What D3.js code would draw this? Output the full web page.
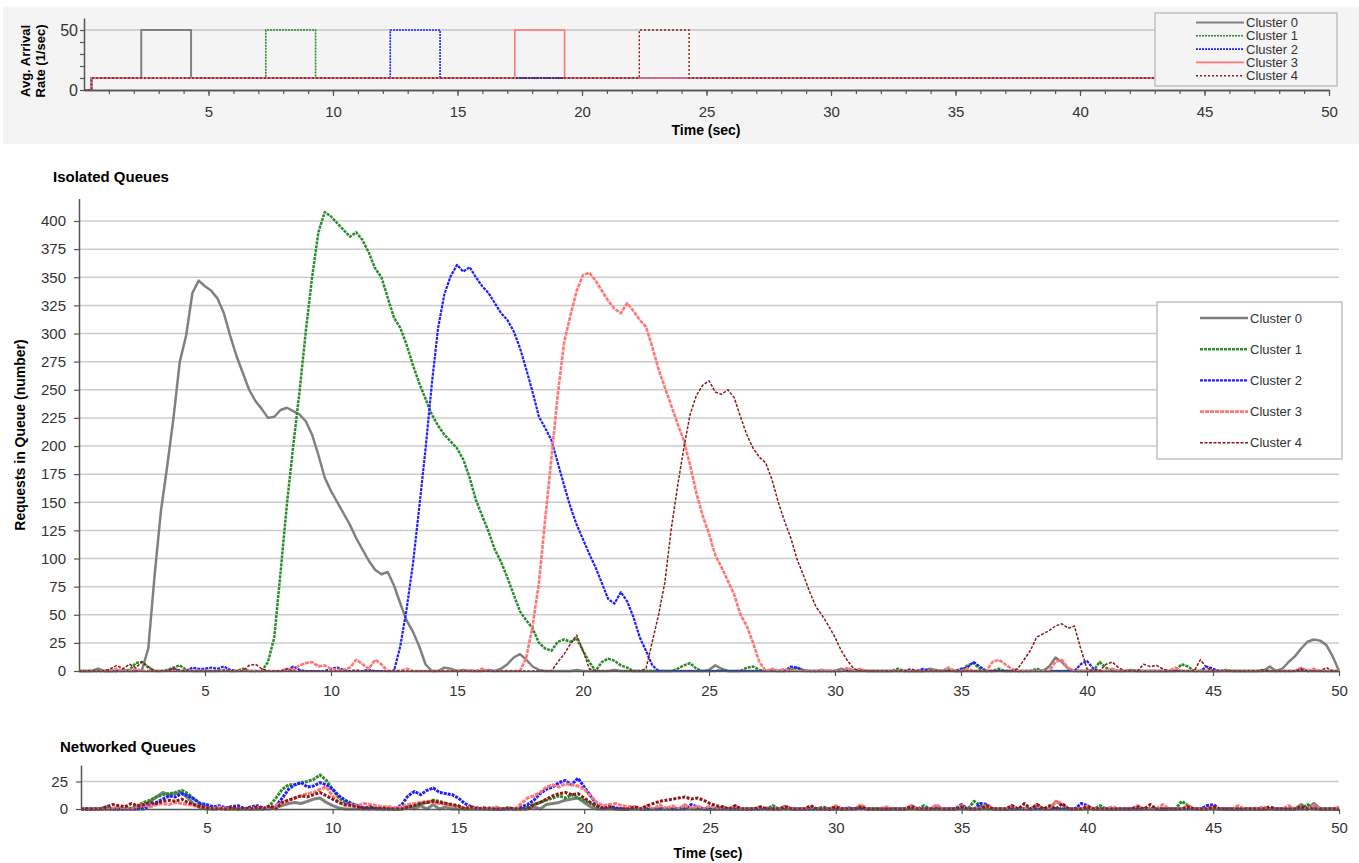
<!DOCTYPE html>
<html>
<head>
<meta charset="utf-8">
<script src="https://d3js.org/d3.v7.min.js"></script>
<style>
    body { margin: 0; background: #ffffff; }
    text { font-family: "Liberation Sans", Arial, sans-serif; }
</style>
</head>
<body>
<div id="chart"></div>

<script>

    var clusters = ['Cluster 0', 'Cluster 1', 'Cluster 2', 'Cluster 3', 'Cluster 4'];
    var colors = ['#808080', '#2a8c2a', '#2020ff', '#ff7878', '#8b1a1a'];

    var timeStep = 0.25;
    var timeTicks = [5, 10, 15, 20, 25, 30, 35, 40, 45, 50];

    // arrival rate per cluster (1/sec)
    var arrivalStart = 0.3;
    var baseRate = 10;
    var burstRate = 50;
    var burstStart = [2.3, 7.3, 12.3, 17.3, 22.3];
    var burstEnd = [4.3, 9.3, 14.3, 19.3, 24.3];

    // isolated queues, one value every 0.25 s (0..50)
    var isolated0 = [
        0,0,0,2,0,0,0,1,0,0,1,20,85,142,182,225,275,298,336,347,
        342,338,331,318,298,280,265,250,240,233,225,226,232,234,231,228,222,210,192,172,
        160,150,140,130,118,108,98,90,86,88,76,60,45,35,22,6,0,0,3,2,
        0,1,0,0,0,1,0,2,6,12,15,10,4,1,0,0,0,0,0,1,
        0,0,0,0,0,1,0,0,0,0,0,0,0,0,0,0,0,0,0,0,
        1,5,2,0,0,0,0,0,0,0,1,0,0,2,3,1,0,0,0,0,
        0,2,0,0,0,0,0,0,0,0,0,0,0,0,0,2,1,0,0,0,
        0,0,0,0,0,0,0,0,0,0,0,0,0,0,4,12,8,2,0,0,
        0,0,0,0,0,0,0,1,0,0,0,0,0,0,0,0,0,0,0,0,
        0,0,0,0,0,0,0,0,0,4,0,2,8,13,20,26,28,27,23,13,
        0];
    var isolated1 = [
        0,0,0,0,0,0,0,0,1,7,8,3,0,0,1,3,5,1,0,0,
        0,0,0,1,0,0,2,0,0,0,8,30,88,148,200,248,302,350,390,408,
        404,398,392,386,390,383,372,358,350,332,314,305,290,272,256,242,228,218,210,204,
        198,188,172,152,138,124,108,97,83,68,53,45,38,25,20,18,26,28,26,29,
        18,8,0,8,11,9,5,3,0,0,0,0,0,0,0,2,5,7,2,0,
        0,0,1,0,0,0,3,4,1,0,0,0,0,0,3,0,0,0,0,0,
        0,0,2,1,1,0,0,0,0,0,2,0,0,0,0,0,0,0,2,0,
        0,5,7,2,0,0,2,0,0,0,0,0,2,0,0,0,0,0,0,0,
        0,0,8,3,0,0,0,0,0,0,0,0,0,0,0,6,4,0,0,0,
        0,0,1,0,0,0,0,0,1,0,0,0,0,0,2,0,0,0,0,0,
        0];
    var isolated2 = [
        0,0,0,0,0,0,0,0,0,0,0,0,0,0,0,2,0,0,3,2,
        2,3,2,4,1,0,0,0,0,0,0,0,0,0,4,1,0,0,0,0,
        2,3,1,0,0,0,1,0,0,0,0,22,55,95,145,197,255,305,335,351,
        361,355,359,350,342,336,327,318,312,302,287,268,248,226,216,205,185,165,146,130,
        117,104,92,78,64,60,70,62,48,30,18,5,0,0,0,0,0,0,0,0,
        0,0,0,0,0,0,0,0,0,0,0,0,0,4,3,0,0,0,0,0,
        0,0,0,0,0,0,0,0,0,0,0,0,0,0,2,0,0,0,0,0,
        2,3,8,4,0,0,0,0,0,0,0,0,0,0,0,0,0,0,0,6,
        9,2,0,0,0,0,0,0,0,0,0,0,0,0,0,0,0,0,0,4,
        2,0,0,0,0,0,0,0,0,0,0,0,0,0,0,0,0,0,0,0,
        0];
    var isolated3 = [
        0,0,0,0,0,0,2,0,0,2,0,0,0,0,0,1,0,0,0,0,
        0,0,0,0,0,0,0,0,0,0,0,0,0,2,1,5,7,8,4,5,
        2,1,1,3,10,6,2,10,6,0,0,0,2,0,0,0,0,0,0,0,
        0,0,1,0,2,0,0,0,0,0,0,12,40,78,135,190,246,292,316,338,
        352,354,347,338,329,322,318,327,320,312,306,288,268,252,236,220,205,183,158,138,
        122,103,92,80,68,50,40,25,8,0,2,0,2,0,0,0,0,0,1,0,
        0,0,3,0,2,0,0,0,0,0,0,0,0,0,0,0,0,0,3,0,
        0,2,0,0,0,8,10,6,2,0,0,0,0,0,0,8,10,3,0,0,
        0,0,0,0,2,0,0,0,0,0,0,0,0,0,3,0,0,0,0,0,
        0,0,0,0,0,0,0,0,0,0,0,0,0,0,3,0,2,0,0,0,
        0];
    var isolated4 = [
        0,0,0,0,0,2,5,2,6,3,8,4,0,0,0,2,1,0,0,0,
        0,0,0,0,0,0,0,5,6,2,0,0,0,2,0,0,0,0,0,0,
        0,0,0,0,1,0,0,0,0,0,1,0,0,0,0,0,0,0,0,0,
        0,0,0,0,0,0,0,0,0,0,0,0,0,0,0,0,8,15,24,32,
        18,2,0,0,0,0,0,0,0,0,2,26,50,79,126,164,198,228,245,254,
        258,248,246,250,243,226,210,198,190,185,170,150,133,118,99,85,70,57,49,40,
        30,18,9,2,0,0,0,0,0,0,0,0,2,0,0,0,0,0,0,0,
        0,0,0,0,0,0,0,0,0,2,10,18,30,33,36,40,42,38,40,20,
        2,0,0,6,8,3,0,0,0,6,4,5,2,0,0,0,0,0,10,3,
        0,0,0,0,0,0,0,0,1,0,0,0,0,0,2,0,0,0,3,0,
        0];

    // networked queues, one value every 0.25 s (0..50)
    var networked0 = [
        0,0,0,0,2,0,0,0,0,0,3,7,11,15,13,14,15,10,4,1,
        0,0,1,0,0,0,0,0,0,0,0,2,3,5,6,5,7,9,10,6,
        3,1,0,0,0,0,0,0,0,0,0,0,2,0,3,0,4,0,2,0,
        0,0,0,0,0,0,0,0,1,0,0,0,2,0,4,5,6,8,9,10,
        6,2,0,0,0,0,0,0,0,0,0,0,0,1,0,0,0,0,0,0,
        0,0,0,0,0,0,0,0,0,1,0,0,0,0,0,0,0,0,0,0,
        0,0,0,0,2,0,0,0,0,0,0,0,0,0,0,0,0,0,0,0,
        0,0,0,0,0,0,0,0,0,0,0,0,0,0,0,7,4,0,0,0,
        0,0,0,0,0,0,0,0,0,0,0,0,0,0,0,0,0,0,0,0,
        0,0,0,0,0,0,0,0,0,0,0,0,0,0,4,0,5,0,0,0,
        0];
    var networked1 = [
        0,0,0,0,0,0,0,0,1,3,6,8,11,13,14,15,17,14,9,4,
        2,0,1,0,0,0,0,0,0,0,3,10,18,22,22,24,25,27,31,26,
        18,10,6,4,3,1,2,0,0,1,0,0,2,3,5,6,8,7,5,3,
        2,0,0,0,0,0,0,0,0,0,0,2,4,6,8,10,12,10,13,10,
        8,5,2,0,1,0,0,0,0,0,0,0,0,0,0,0,3,0,0,0,
        0,0,2,0,0,0,0,0,0,0,3,0,0,0,0,0,0,0,2,0,
        0,0,0,0,2,0,0,0,0,0,0,0,0,0,3,0,0,0,0,0,
        0,0,7,3,0,0,0,0,0,0,0,0,4,0,0,0,0,0,0,0,
        0,0,3,0,0,0,0,0,0,0,0,0,0,0,0,7,3,0,0,0,
        0,0,0,0,0,0,0,0,0,0,0,0,0,0,0,4,0,0,0,0,
        0];
    var networked2 = [
        0,0,0,0,0,0,0,0,0,0,0,3,6,9,12,11,14,12,9,5,
        4,2,3,1,2,3,0,2,3,1,1,3,10,18,22,24,20,21,24,22,
        18,12,8,5,3,1,0,1,0,0,0,4,12,16,13,17,19,15,14,13,
        10,5,2,1,0,1,0,0,0,0,2,4,8,14,18,20,24,26,22,28,
        20,12,4,1,3,1,0,0,2,0,0,0,0,0,0,0,0,4,2,0,
        0,0,0,0,0,0,0,0,0,0,0,0,2,0,0,0,0,0,0,0,
        0,0,1,0,0,0,0,0,0,0,0,0,3,0,0,0,3,0,0,0,
        4,0,0,5,4,0,0,0,0,0,0,0,0,0,0,0,0,0,0,5,
        3,0,0,0,0,0,0,0,0,0,0,0,0,0,0,0,0,0,0,3,
        4,0,0,0,0,0,0,0,0,0,0,0,0,0,0,0,2,0,0,0,
        0];
    var networked3 = [
        0,0,0,0,0,0,2,0,0,3,4,2,4,5,4,6,5,4,3,2,
        1,0,2,0,1,0,0,0,2,0,1,3,6,8,10,12,14,15,18,20,
        12,6,3,4,3,5,4,3,2,2,1,2,4,5,6,7,6,5,4,3,
        2,1,2,0,1,0,2,0,1,0,5,10,12,15,20,22,20,23,22,21,
        18,12,6,3,4,5,3,2,2,0,3,0,4,0,3,0,4,0,3,0,
        3,0,2,0,3,0,0,0,2,0,0,0,3,0,0,0,2,0,0,0,
        3,0,0,0,4,0,0,0,2,0,0,0,3,0,0,0,4,0,0,0,
        3,0,0,0,4,0,0,0,3,0,0,0,4,0,0,7,5,0,0,0,
        3,0,0,0,2,0,0,0,3,0,0,0,4,0,0,0,3,0,0,0,
        2,0,0,0,3,0,0,0,2,0,0,0,3,0,0,0,3,0,0,0,
        2];
    var networked4 = [
        0,0,0,0,2,4,3,2,5,3,4,6,5,7,8,7,9,6,4,2,
        1,0,0,0,2,0,1,0,2,0,3,0,6,8,10,12,11,13,15,12,
        9,6,4,3,2,0,2,0,1,0,0,0,2,3,5,6,7,6,5,4,
        3,0,2,0,1,0,0,0,1,0,0,0,4,6,9,12,14,15,13,14,
        10,6,3,0,2,0,0,0,2,0,3,5,7,8,9,10,11,9,10,8,
        5,3,2,0,3,0,0,0,2,0,0,0,2,0,0,0,3,0,0,0,
        2,0,0,0,2,0,0,0,0,0,0,0,2,0,0,0,0,0,0,0,
        2,0,0,0,3,0,0,0,3,0,5,0,4,0,3,0,5,0,0,0,
        2,0,0,0,0,0,0,0,2,0,4,0,0,0,0,0,2,0,0,0,
        2,0,0,0,0,0,0,0,0,2,0,0,0,0,2,0,0,0,0,0,
        0];

    var isolated = [isolated0, isolated1, isolated2, isolated3, isolated4];
    var networked = [networked0, networked1, networked2, networked3, networked4];

    var width = 1359;
    var height = 863;

    var svg = d3.select('#chart').append('svg')
        .attr('width', width)
        .attr('height', height);

    // line looks per cluster: [width, dasharray]
    var thinStyle = [[2, null], [1.6, '2,1'], [1.6, '2,1'], [1.6, null], [1.4, '2,2']];
    var thickStyle = [[2.5, null], [2.5, '3,1'], [2.2, '3,1'], [2.6, '4,1'], [1.5, '3,1.5']];

    function toPoints(values) {
        return values.map(function(v, i) { return [i * timeStep, v]; });
    }

    function styleAxis(g) {
        g.select('.domain').attr('stroke', '#555555').attr('stroke-width', 1.5);
        g.selectAll('.tick line').attr('stroke', '#555555').attr('stroke-width', 1.2);
        g.selectAll('.tick text')
            .attr('fill', '#333333')
            .attr('font-size', 15)
            .attr('font-family', '"Liberation Sans", Arial, sans-serif');
    }

    function drawLegend(x, y, w, h, rowGap, fill, styles) {
        var legend = svg.append('g')
            .attr('class', 'legend')
            .attr('transform', 'translate(' + x + ',' + y + ')');

        legend.append('rect')
            .attr('width', w)
            .attr('height', h)
            .attr('fill', fill)
            .attr('stroke', '#c0c0c0')
            .attr('stroke-width', 1.5);

        var entries = legend.selectAll('g.legend-entry')
            .data(clusters)
            .enter()
            .append('g')
            .attr('class', 'legend-entry')
            .attr('transform', function(d, i) { return 'translate(0,' + (rowGap[0] + rowGap[1] * i) + ')'; });

        entries.append('line')
            .attr('x1', rowGap[2])
            .attr('x2', rowGap[2] + 48)
            .attr('stroke', function(d, i) { return colors[i]; })
            .attr('stroke-width', function(d, i) { return styles[i][0]; })
            .attr('stroke-dasharray', function(d, i) { return styles[i][1]; });

        entries.append('text')
            .attr('x', rowGap[2] + 50)
            .attr('dy', '0.35em')
            .attr('font-size', 13)
            .attr('fill', '#333333')
            .text(function(d) { return d; });
    }

    // ---------- arrival rate panel ----------
    svg.append('rect')
        .attr('x', 3).attr('y', 7)
        .attr('width', width - 3).attr('height', 137)
        .attr('fill', '#f4f4f4');

    var xTop = d3.scaleLinear().domain([0, 50]).range([84, 1329]);
    var yTop = d3.scaleLinear().domain([0, 60]).range([90, 18]);

    svg.append('line')
        .attr('x1', xTop(0)).attr('x2', xTop(50))
        .attr('y1', yTop(50)).attr('y2', yTop(50))
        .attr('stroke', '#c4c4c4').attr('stroke-width', 1.5);

    var arrival = burstStart.map(function(s, i) {
        return [[0, 0], [arrivalStart, 0], [arrivalStart, baseRate], [s, baseRate],
            [s, burstRate], [burstEnd[i], burstRate], [burstEnd[i], baseRate], [50, baseRate]];
    });

    var topLine = d3.line()
        .x(function(d) { return xTop(d[0]); })
        .y(function(d) { return yTop(d[1]); });

    svg.append('g').selectAll('path')
        .data(arrival)
        .enter()
        .append('path')
        .attr('d', topLine)
        .attr('fill', 'none')
        .attr('stroke', function(d, i) { return colors[i]; })
        .attr('stroke-width', function(d, i) { return thinStyle[i][0]; })
        .attr('stroke-dasharray', function(d, i) { return thinStyle[i][1]; });

    svg.append('g')
        .attr('transform', 'translate(0,' + yTop(0) + ')')
        .call(d3.axisBottom(xTop).tickValues(d3.range(1, 51)).tickSize(4).tickSizeOuter(0).tickFormat(''))
        .call(styleAxis);

    svg.append('g')
        .attr('transform', 'translate(0,' + yTop(0) + ')')
        .call(d3.axisBottom(xTop).tickValues(timeTicks).tickSize(6).tickSizeOuter(0).tickPadding(10))
        .call(styleAxis);

    svg.append('g')
        .attr('transform', 'translate(' + xTop(0) + ',0)')
        .call(d3.axisLeft(yTop).tickValues([0, 10, 20, 30, 40, 50]).tickSize(4).tickSizeOuter(0).tickPadding(2)
            .tickFormat(function(d) { return d % 50 === 0 ? d : ''; }))
        .call(styleAxis)
        .selectAll('.tick text').attr('font-size', 16);

    svg.append('text')
        .attr('transform', 'translate(30,61) rotate(-90)')
        .attr('text-anchor', 'middle')
        .attr('font-size', 13)
        .attr('font-weight', 'bold')
        .text('Avg. Arrival');

    svg.append('text')
        .attr('transform', 'translate(45,61) rotate(-90)')
        .attr('text-anchor', 'middle')
        .attr('font-size', 13)
        .attr('font-weight', 'bold')
        .text('Rate (1/sec)');

    svg.append('text')
        .attr('x', 706).attr('y', 135)
        .attr('text-anchor', 'middle')
        .attr('font-size', 14)
        .attr('font-weight', 'bold')
        .text('Time (sec)');

    drawLegend(1155, 13, 182, 73, [9.5, 13.3, 41], '#f4f4f4', thinStyle);

    // ---------- isolated queues ----------
    var xMain = d3.scaleLinear().domain([0, 50]).range([79, 1339]);
    var yMain = d3.scaleLinear().domain([0, 420]).range([671, 198.5]);
    var mainTicks = d3.range(0, 401, 25);

    svg.append('g').selectAll('line')
        .data(mainTicks.slice(1))
        .enter()
        .append('line')
        .attr('x1', xMain(0)).attr('x2', xMain(50))
        .attr('y1', function(d) { return yMain(d); })
        .attr('y2', function(d) { return yMain(d); })
        .attr('stroke', '#cccccc').attr('stroke-width', 1.5);

    var mainLine = d3.line()
        .x(function(d) { return xMain(d[0]); })
        .y(function(d) { return yMain(d[1]); });

    svg.append('g').selectAll('path')
        .data(isolated.map(toPoints))
        .enter()
        .append('path')
        .attr('d', mainLine)
        .attr('fill', 'none')
        .attr('stroke', function(d, i) { return colors[i]; })
        .attr('stroke-width', function(d, i) { return thickStyle[i][0]; })
        .attr('stroke-dasharray', function(d, i) { return thickStyle[i][1]; })
        .attr('stroke-linejoin', 'round');

    svg.append('g')
        .attr('transform', 'translate(0,' + yMain(0) + ')')
        .call(d3.axisBottom(xMain).tickValues(timeTicks).tickSize(5).tickSizeOuter(0).tickPadding(9))
        .call(styleAxis);

    svg.append('g')
        .attr('transform', 'translate(' + xMain(0) + ',0)')
        .call(d3.axisLeft(yMain).tickValues(mainTicks).tickSize(5).tickSizeOuter(0).tickPadding(8))
        .call(styleAxis);

    svg.append('text')
        .attr('x', 53).attr('y', 182)
        .attr('font-size', 15)
        .attr('font-weight', 'bold')
        .text('Isolated Queues');

    svg.append('text')
        .attr('transform', 'translate(25,435) rotate(-90)')
        .attr('text-anchor', 'middle')
        .attr('font-size', 14)
        .attr('font-weight', 'bold')
        .text('Requests in Queue (number)');

    drawLegend(1157, 302, 185, 157, [16, 31.2, 43], '#ffffff', thickStyle);

    // ---------- networked queues ----------
    var xNet = d3.scaleLinear().domain([0, 50]).range([81, 1339]);
    var yNet = d3.scaleLinear().domain([0, 40]).range([809, 765]);

    svg.append('line')
        .attr('x1', xNet(0)).attr('x2', xNet(50))
        .attr('y1', yNet(25)).attr('y2', yNet(25))
        .attr('stroke', '#cccccc').attr('stroke-width', 1.5);

    var netLine = d3.line()
        .x(function(d) { return xNet(d[0]); })
        .y(function(d) { return yNet(d[1]); });

    svg.append('g').selectAll('path')
        .data(networked.map(toPoints))
        .enter()
        .append('path')
        .attr('d', netLine)
        .attr('fill', 'none')
        .attr('stroke', function(d, i) { return colors[i]; })
        .attr('stroke-width', 3)
        .attr('stroke-dasharray', function(d, i) { return thickStyle[i][1]; })
        .attr('stroke-linejoin', 'round');

    svg.append('g')
        .attr('transform', 'translate(0,' + yNet(0) + ')')
        .call(d3.axisBottom(xNet).tickValues(timeTicks).tickSize(5).tickSizeOuter(0).tickPadding(8))
        .call(styleAxis);

    svg.append('g')
        .attr('transform', 'translate(' + xNet(0) + ',0)')
        .call(d3.axisLeft(yNet).tickValues([0, 25]).tickSize(5).tickSizeOuter(0).tickPadding(8))
        .call(styleAxis);

    svg.append('text')
        .attr('x', 60).attr('y', 752)
        .attr('font-size', 15)
        .attr('font-weight', 'bold')
        .text('Networked Queues');

    svg.append('text')
        .attr('x', 708).attr('y', 858)
        .attr('text-anchor', 'middle')
        .attr('font-size', 14)
        .attr('font-weight', 'bold')
        .text('Time (sec)');

</script>
</body>
</html>
